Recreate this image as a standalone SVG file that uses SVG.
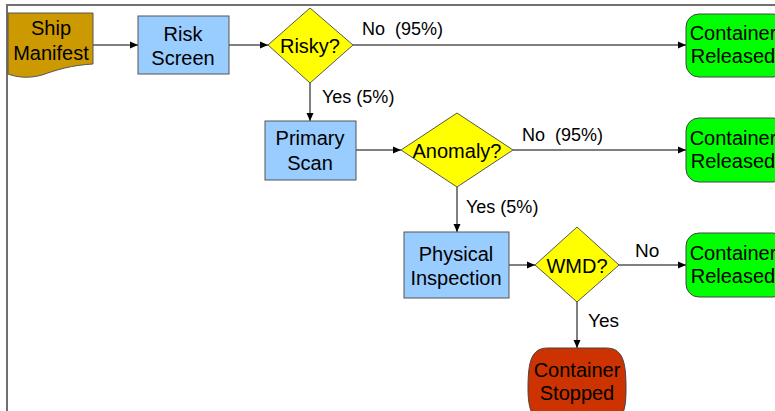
<svg xmlns="http://www.w3.org/2000/svg" width="775" height="411" viewBox="0 0 775 411">
<style>
.t{font-family:"Liberation Sans",Arial,sans-serif;font-size:20px;fill:#000;text-anchor:middle}
.l{font-family:"Liberation Sans",Arial,sans-serif;font-size:18px;fill:#000;white-space:pre}
.box{fill:#99CCFF;stroke:#555;stroke-width:1}
.dia{fill:#FFFF00;stroke:#555;stroke-width:1}
.grn{fill:#00FF00;stroke:#444;stroke-width:1}
.c{stroke:#000;stroke-width:1;fill:none;marker-end:url(#ah)}
</style>
<defs>
<marker id="ah" markerWidth="8" markerHeight="8" refX="8" refY="4" orient="auto" markerUnits="userSpaceOnUse">
<path d="M0,0.5 L8,4 L0,7.5 Z" fill="#000"/>
</marker>
</defs>
<rect x="0" y="0" width="775" height="411" fill="#fff"/>
<rect x="7" y="5" width="820" height="460" fill="none" stroke="#707070" stroke-width="2"/>
<g id="connectors">
<line class="c" x1="93" y1="45" x2="138" y2="45"/>
<line class="c" x1="229" y1="45" x2="268" y2="45"/>
<line class="c" x1="353" y1="45" x2="686" y2="45"/>
<line class="c" x1="310" y1="83" x2="310" y2="121"/>
<line class="c" x1="356" y1="150" x2="401" y2="150"/>
<line class="c" x1="513" y1="150" x2="686" y2="150"/>
<line class="c" x1="457" y1="187" x2="457" y2="232"/>
<line class="c" x1="509" y1="265" x2="535" y2="265"/>
<line class="c" x1="619" y1="265" x2="686" y2="265"/>
<line class="c" x1="577" y1="302" x2="577" y2="348"/>
<text class="l" x="362" y="35" xml:space="preserve">No  (95%)</text>
<text class="l" x="322" y="103">Yes (5%)</text>
<text class="l" x="522" y="141" xml:space="preserve">No  (95%)</text>
<text class="l" x="466" y="213">Yes (5%)</text>
<text class="l" x="635" y="257" style="font-size:19px">No</text>
<text class="l" x="588" y="327" style="font-size:19px">Yes</text>
</g>
<g id="ship-manifest">
<path d="M8,13 H93 V64 C72,65 56,70 42,75 C28,79 16,77 8,74 Z" fill="#CC9900" stroke="#555" stroke-width="1"/>
<text class="t" x="51" y="35">Ship</text>
<text class="t" x="51" y="60">Manifest</text>
</g>
<g id="risk-screen">
<rect class="box" x="138" y="16" width="91" height="58"/>
<text class="t" x="183" y="41">Risk</text>
<text class="t" x="183" y="65">Screen</text>
</g>
<g id="risky">
<polygon class="dia" points="310,8 353,45 310,83 268,45"/>
<text class="t" x="310" y="53">Risky?</text>
</g>
<g id="released-1">
<rect class="grn" x="686" y="14" width="100" height="63" rx="13"/>
<text class="t" x="733" y="40">Container</text>
<text class="t" x="733" y="63">Released</text>
</g>
<g id="primary-scan">
<rect class="box" x="265" y="121" width="91" height="59"/>
<text class="t" x="310" y="145">Primary</text>
<text class="t" x="310" y="170">Scan</text>
</g>
<g id="anomaly">
<polygon class="dia" points="457,113 513,150 457,187 401,150"/>
<text class="t" x="457" y="158">Anomaly?</text>
</g>
<g id="released-2">
<rect class="grn" x="686" y="118" width="100" height="64" rx="13"/>
<text class="t" x="733" y="145">Container</text>
<text class="t" x="733" y="168">Released</text>
</g>
<g id="physical-inspection">
<rect class="box" x="404" y="232" width="105" height="66"/>
<text class="t" x="456" y="261">Physical</text>
<text class="t" x="456" y="285">Inspection</text>
</g>
<g id="wmd">
<polygon class="dia" points="577,227 619,265 577,302 535,265"/>
<text class="t" x="577" y="273">WMD?</text>
</g>
<g id="released-3">
<rect class="grn" x="686" y="233" width="100" height="64" rx="13"/>
<text class="t" x="733" y="260">Container</text>
<text class="t" x="733" y="283">Released</text>
</g>
<g id="container-stopped">
<path d="M548,348 H606 C622,348 626,360 626,388 C626,410 624,420 606,428 H548 C532,420 528,410 528,388 C528,360 532,348 548,348 Z" fill="#CC3300" stroke="#444" stroke-width="1"/>
<text class="t" x="577" y="377">Container</text>
<text class="t" x="577" y="400">Stopped</text>
</g>
</svg>
